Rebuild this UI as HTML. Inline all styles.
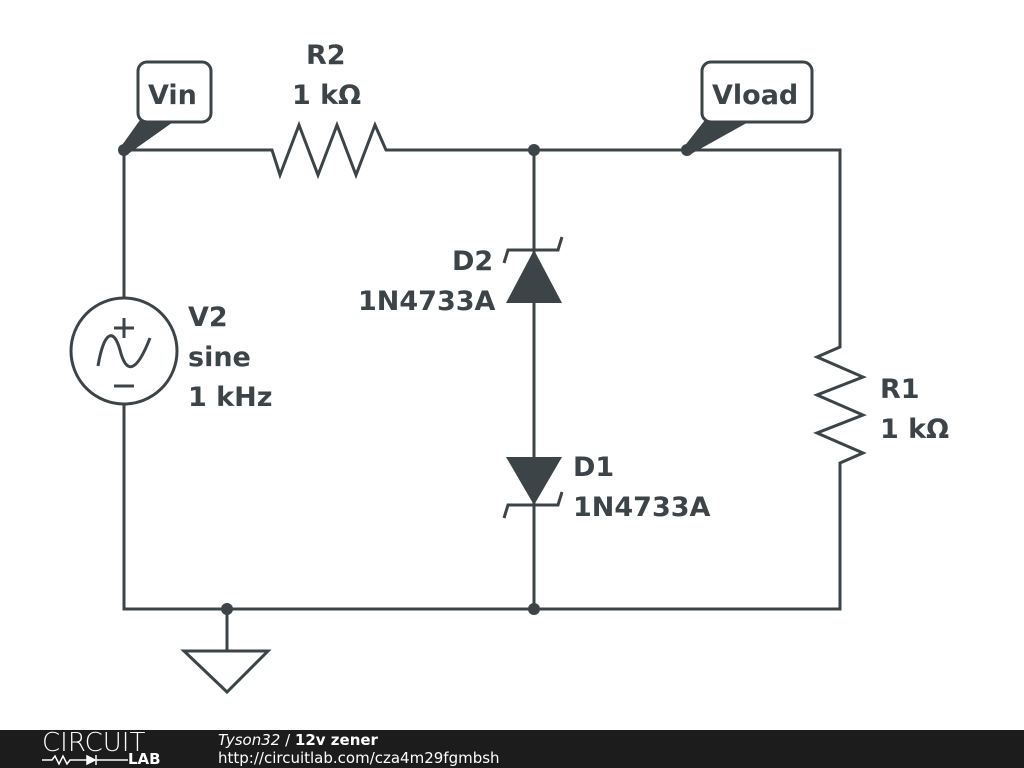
<!DOCTYPE html>
<html><head><style>
body{margin:0;width:1024px;height:768px;background:#fff;overflow:hidden;position:relative;font-family:"DejaVu Sans","Liberation Sans",sans-serif}
.t{position:absolute;font-weight:bold;font-size:27px;color:#3c4448;line-height:40px}
.foot{position:absolute;left:0;top:730px;width:1024px;height:38px;background:#1c1c1c;color:#fff}
</style></head><body>
<svg width="1024" height="768" style="position:absolute;left:0;top:0" fill="none" stroke="#3c4448" stroke-width="3" stroke-linejoin="miter">
<path d="M124 150H272L280 175L299 125L318 175L337 125L356 175L375 125L386 150H840V347L817 357L863 377L817 395L863 415L817 433L863 453L840 463V609H124V405M124 297V150"/>
<path d="M534 150V609M227 609V651"/>
<path d="M184 651H268L227 692Z"/>
<circle cx="124" cy="351" r="53"/>
<path d="M124 318V338M114 328H134M114 386H134"/>
<path d="M98 366C104 330 114 328 120 350C126 374 136 374 150 338" />
<path d="M504 263L508 250H558L562 237" />
<path d="M504 518L508 505H558L562 492" />
<g fill="#3c4448" stroke="none">
<path d="M534 250L506 303H562Z"/>
<path d="M534 505L506 457H562Z"/>
<circle cx="124" cy="150" r="6"/><circle cx="534" cy="150" r="6"/><circle cx="687" cy="150" r="6"/>
<circle cx="534" cy="609" r="6"/><circle cx="227" cy="609" r="6"/>
<path d="M120 148L140 120H176L128 154Z"/>
<path d="M683 148L705 120H752L691 154Z"/>
</g>
<rect x="138" y="62" width="73" height="60" rx="9" fill="#fff"/>
<rect x="702" y="62" width="110" height="60" rx="9" fill="#fff"/>
</svg>
<div class="t" style="left:148px;top:76px">Vin</div>
<div class="t" style="left:712px;top:76px">Vload</div>
<div class="t" style="left:306px;top:36px">R2</div>
<div class="t" style="left:292px;top:76px">1 kΩ</div>
<div class="t" style="left:188px;top:298px">V2<br>sine<br>1 kHz</div>
<div class="t" style="left:452px;top:242px">D2</div>
<div class="t" style="left:358px;top:282px">1N4733A</div>
<div class="t" style="left:573px;top:448px">D1</div>
<div class="t" style="left:573px;top:488px">1N4733A</div>
<div class="t" style="left:880px;top:370px">R1<br>1 kΩ</div>
<div class="foot">
<div style="position:absolute;left:42px;top:0;font-size:26px;font-weight:300;line-height:26px;font-family:'DejaVu Sans',sans-serif">CIRCUIT</div>
<div style="position:absolute;left:128px;top:20px;font-size:15px;font-weight:bold;line-height:18px">LAB</div>
<svg width="90" height="12" style="position:absolute;left:42px;top:24px" stroke="#fff" stroke-width="1.5" fill="none"><path d="M0 6H10L13 2L17 10L21 2L25 10L28 6H45"/><path d="M45 2V10L53 6Z" fill="#fff"/><path d="M54 1V11M54 6H86"/></svg>
<div style="position:absolute;left:218px;top:1px;font-size:15px;line-height:18px"><i>Tyson32</i> / <b>12v zener</b></div>
<div style="position:absolute;left:218px;top:19px;font-size:15px;line-height:18px">http://circuitlab.com/cza4m29fgmbsh</div>
</div>
</body></html>
